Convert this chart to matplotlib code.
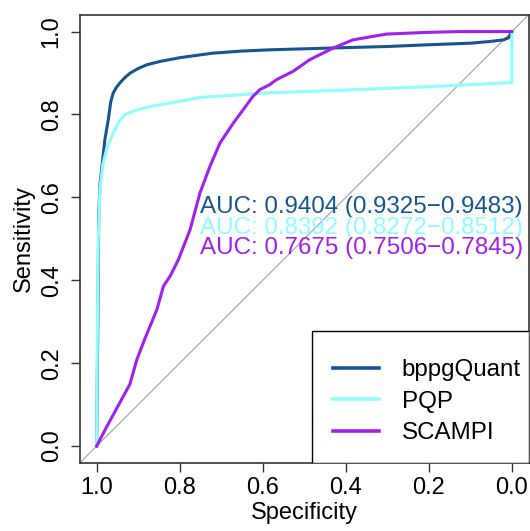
import numpy as np
import matplotlib
matplotlib.use('Agg')
import matplotlib.pyplot as plt
from matplotlib.patches import Rectangle

plt.rcParams['font.family'] = ['Liberation Sans', 'DejaVu Sans']

# ROC curves (specificity, sensitivity)
bpp_spec = [1.0, 0.997, 0.995, 0.992, 0.98, 0.972, 0.966, 0.96, 0.952, 0.944, 0.932, 0.919, 0.9, 0.879, 0.847, 0.80, 0.72, 0.65, 0.583, 0.446, 0.30, 0.206, 0.10, 0.054, 0.02, 0.008, 0.0]
bpp_sens = [0.0, 0.30, 0.55, 0.63, 0.74, 0.787, 0.83, 0.852, 0.866, 0.876, 0.889, 0.90, 0.911, 0.92, 0.928, 0.937, 0.948, 0.953, 0.956, 0.96, 0.964, 0.968, 0.972, 0.976, 0.98, 0.985, 1.0]

pqp_spec = [1.0, 0.998, 0.996, 0.992, 0.985, 0.975, 0.96, 0.945, 0.931, 0.90, 0.871, 0.80, 0.751, 0.59, 0.40, 0.20, 0.0, 0.0]
pqp_sens = [0.0, 0.30, 0.50, 0.62, 0.68, 0.72, 0.755, 0.785, 0.80, 0.812, 0.819, 0.832, 0.841, 0.852, 0.859, 0.867, 0.877, 1.0]

sca_spec = [1.0, 0.975, 0.944, 0.92, 0.903, 0.883, 0.855, 0.839, 0.823, 0.803, 0.775, 0.751, 0.727, 0.703, 0.671, 0.624, 0.607, 0.583, 0.567, 0.527, 0.487, 0.431, 0.383, 0.302, 0.206, 0.126, 0.0]
sca_sens = [0.0, 0.048, 0.105, 0.149, 0.209, 0.261, 0.329, 0.386, 0.41, 0.45, 0.522, 0.611, 0.675, 0.731, 0.779, 0.843, 0.86, 0.872, 0.884, 0.904, 0.932, 0.96, 0.98, 0.994, 0.998, 1.0, 1.0]

names = ['bppgQuant', 'PQP', 'SCAMPI']
colors = ['#185590', '#8ffcff', '#a020f0']
auc_text = ['AUC: 0.9404 (0.9325\u22120.9483)',
            'AUC: 0.8392 (0.8272\u22120.8512)',
            'AUC: 0.7675 (0.7506\u22120.7845)']
auc_y = [0.578, 0.527, 0.477]

fs = 17
fs_txt = 17.4

fig = plt.figure(figsize=(5.30, 5.31), dpi=100)
ax = fig.add_axes([80 / 530, 1 - 462.7 / 531, 448.5 / 530, 447.7 / 531])

# diagonal reference
ax.plot([1.04, -0.04], [-0.04, 1.04], color='#a0a0a0', lw=0.8, zorder=1)

curves = [(bpp_spec, bpp_sens), (pqp_spec, pqp_sens), (sca_spec, sca_sens)]
for (sp, se), name, c in zip(curves, names, colors):
    ax.plot(sp, se, color=c, lw=2.2, label=name, zorder=2)

for txt, y, c in zip(auc_text, auc_y, colors):
    ax.text(0.751, y, txt, color=c, fontsize=fs_txt, ha='left', va='center')

ax.set_xlim(1.04, -0.04)
ax.set_ylim(-0.04, 1.04)
ticks = [1.0, 0.8, 0.6, 0.4, 0.2, 0.0]
ax.set_xticks(ticks)
ax.set_xticklabels(['%.1f' % t for t in ticks])
ax.set_yticks(ticks)
ax.set_yticklabels(['%.1f' % t for t in ticks], rotation=90, va='center')
ax.tick_params(length=6.5, width=1, labelsize=fs, color='#333333')
ax.tick_params(axis='x', pad=4)
ax.tick_params(axis='y', pad=6)
for s in ax.spines.values():
    s.set_linewidth(1.2)
    s.set_color('#333333')

ax.set_xlabel('Specificity', fontsize=fs, labelpad=2)
ax.set_ylabel('Sensitivity', fontsize=fs, labelpad=4)

# legend frame drawn separately (R-style, box flush with the axes corner)
ax.add_patch(Rectangle((0.517, 0.0), 0.483, 0.295, transform=ax.transAxes,
                       facecolor='white', edgecolor='black', lw=1.0, zorder=3))
leg = ax.legend(loc='upper left', bbox_to_anchor=(0.5634, 0.231), borderaxespad=0,
                fontsize=fs_txt, frameon=False, borderpad=0,
                handlelength=1.93, handletextpad=0.93, labelspacing=0.39)
leg.set_zorder(4)
for l in leg.get_lines():
    l.set_linewidth(2.6)

fig.savefig('out.png', dpi=100)
